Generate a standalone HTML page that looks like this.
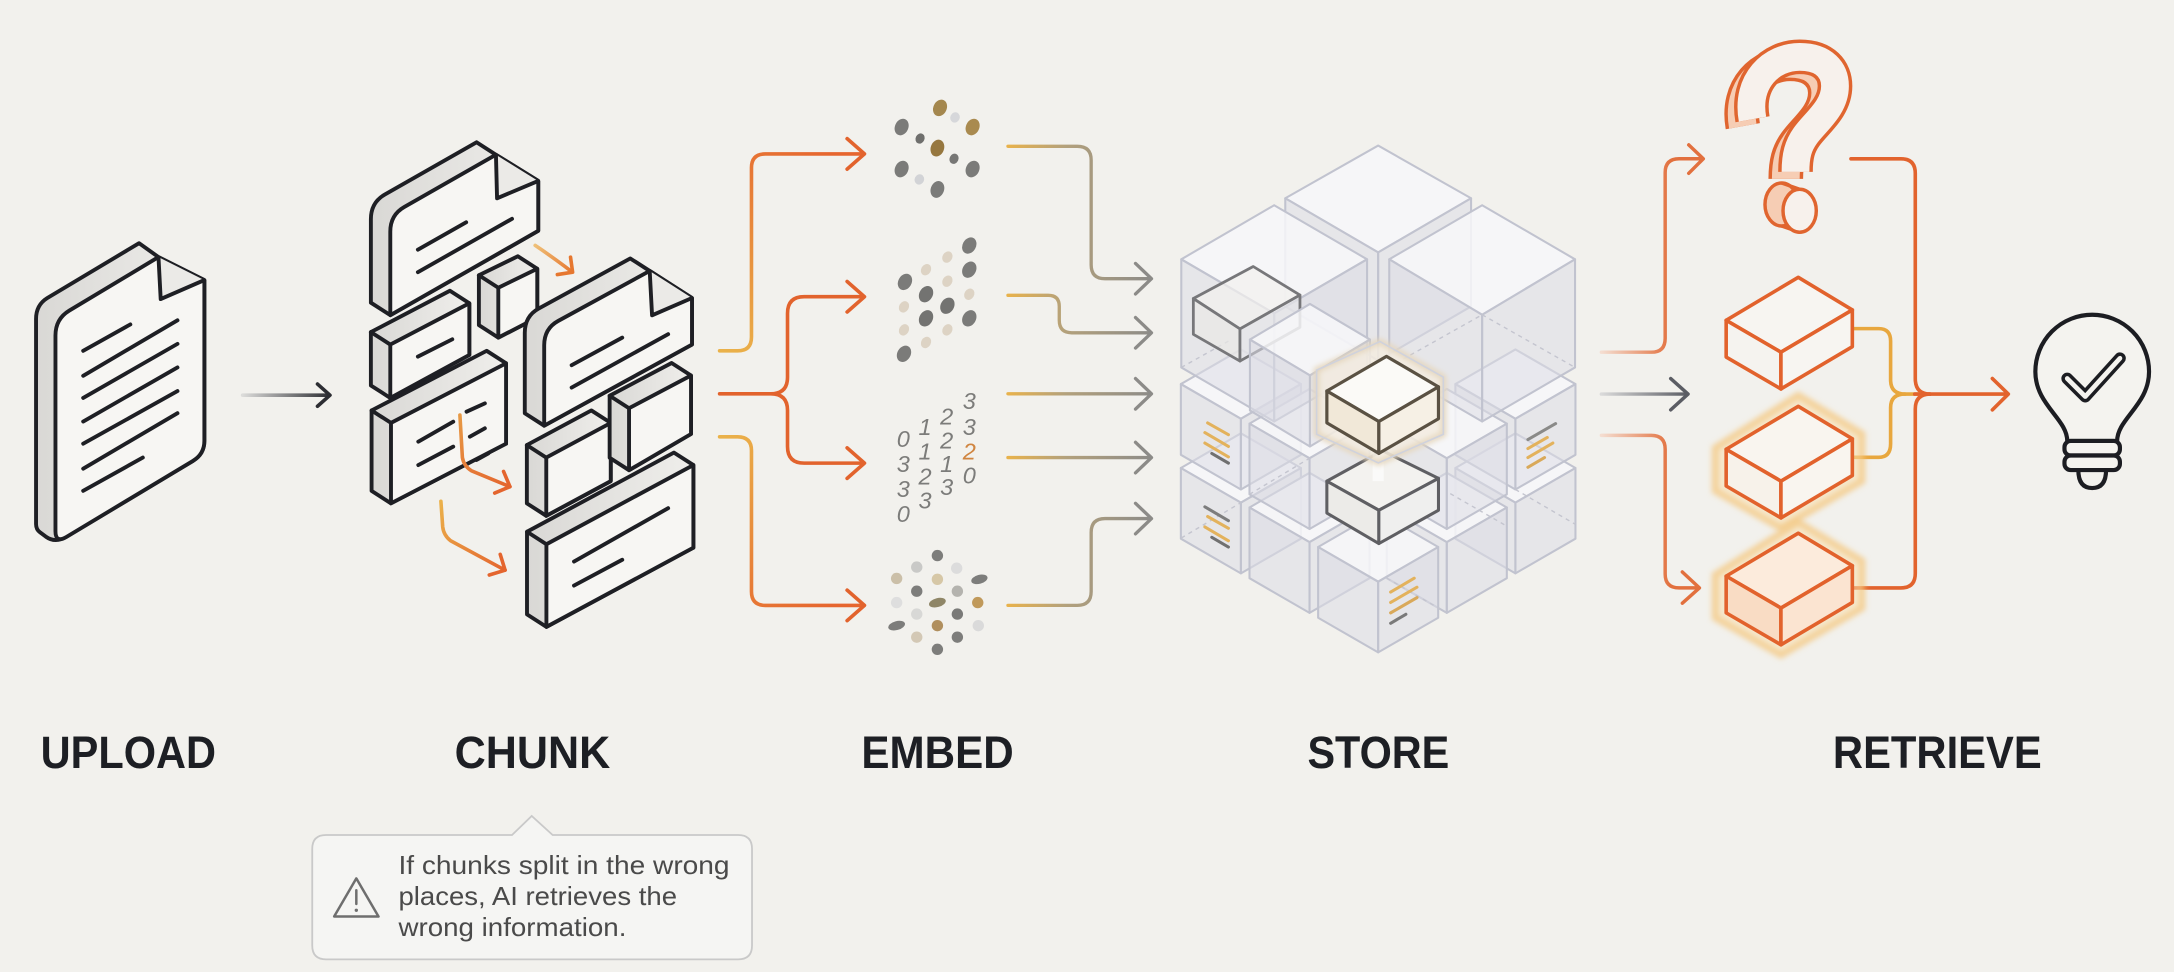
<!DOCTYPE html>
<html><head><meta charset="utf-8"><style>
html,body{margin:0;padding:0;background:#f2f1ed;}
body{width:2174px;height:972px;overflow:hidden;}
svg{display:block;}
.lbl{font-family:"Liberation Sans",Arial,sans-serif;font-weight:bold;font-size:33px;fill:#1d1f24;}
.cap{font-family:"Liberation Sans",Arial,sans-serif;font-size:19px;fill:#4a4a4a;}
.num{font-family:"Liberation Sans",Arial,sans-serif;font-style:italic;font-size:17px;fill:#7c7c7a;text-anchor:middle;}
.dk{fill:none;stroke:#1e1f24;stroke-width:2.8;stroke-linecap:round;stroke-linejoin:round;}
.hull{fill:#e3e2df;stroke:#1e1f24;stroke-width:2.8;stroke-linejoin:round;}
.face{fill:#f7f6f3;stroke:#1e1f24;stroke-width:2.8;stroke-linejoin:round;}
.cs{stroke:#c1c3cf;stroke-width:1.5;stroke-linejoin:round;}
.cside{fill:#dcdde6;fill-opacity:.55;}
.ctop{fill:#f7f7f9;fill-opacity:.85;}
.dash{fill:none;stroke:#c4c5cf;stroke-width:1;stroke-dasharray:3 3;}
.or{fill:none;stroke:#e2632d;stroke-width:2.6;stroke-linecap:round;stroke-linejoin:round;}
.gd{fill:none;stroke:#e8a73e;stroke-width:2.6;stroke-linecap:round;stroke-linejoin:round;}
.rb{stroke:#e2622c;stroke-width:2.6;stroke-linejoin:round;}
</style></head><body>
<svg width="2174" height="972" viewBox="0 0 1568 701" preserveAspectRatio="none" xmlns="http://www.w3.org/2000/svg">
<defs>
<linearGradient id="gUp" gradientUnits="userSpaceOnUse" x1="175" y1="0" x2="238" y2="0"><stop offset="0" stop-color="#dcdcda"/><stop offset="1" stop-color="#2d2e33"/></linearGradient>
<linearGradient id="gO1" gradientUnits="userSpaceOnUse" x1="519" y1="253" x2="600" y2="111"><stop offset="0" stop-color="#eab24a"/><stop offset="1" stop-color="#e6662f"/></linearGradient>
<linearGradient id="gO3" gradientUnits="userSpaceOnUse" x1="519" y1="315" x2="600" y2="437"><stop offset="0" stop-color="#eab24a"/><stop offset="1" stop-color="#e6662f"/></linearGradient>
<linearGradient id="gGr" gradientUnits="userSpaceOnUse" x1="727" y1="0" x2="831" y2="0"><stop offset="0" stop-color="#e8b24c"/><stop offset=".4" stop-color="#b3a17c"/><stop offset="1" stop-color="#8c8b88"/></linearGradient>
<linearGradient id="gSo" gradientUnits="userSpaceOnUse" x1="1155" y1="0" x2="1205" y2="0"><stop offset="0" stop-color="#f4ddd0"/><stop offset="1" stop-color="#e2703e"/></linearGradient>
<linearGradient id="gSg" gradientUnits="userSpaceOnUse" x1="1155" y1="0" x2="1217" y2="0"><stop offset="0" stop-color="#dadada"/><stop offset="1" stop-color="#5b5d64"/></linearGradient>
<linearGradient id="gCa" gradientUnits="userSpaceOnUse" x1="385" y1="176" x2="413" y2="196"><stop offset="0" stop-color="#efc27a"/><stop offset="1" stop-color="#e6772f"/></linearGradient>
<linearGradient id="gCb" gradientUnits="userSpaceOnUse" x1="331" y1="299" x2="368" y2="351"><stop offset="0" stop-color="#e79a45"/><stop offset="1" stop-color="#e4652e"/></linearGradient>
<linearGradient id="gCc" gradientUnits="userSpaceOnUse" x1="318" y1="361" x2="364" y2="411"><stop offset="0" stop-color="#ebb24b"/><stop offset="1" stop-color="#e4652e"/></linearGradient>
<linearGradient id="gSide" x1="0" y1="0" x2="1" y2="0"><stop offset="0" stop-color="#d9d8d5"/><stop offset="1" stop-color="#efeeeb"/></linearGradient>
<linearGradient id="gQ" x1="0" y1="0" x2="1" y2="0"><stop offset="0" stop-color="#f6c9ae"/><stop offset="1" stop-color="#fae3d5"/></linearGradient>
<filter id="blur" x="-20%" y="-20%" width="140%" height="140%"><feGaussianBlur stdDeviation="2"/></filter>
</defs>

<rect x="0" y="0" width="1568" height="701" fill="#f2f1ed"/>

<!-- ================= UPLOAD DOC ================= -->
<path d="M26,230 Q26,220 34,215 L100.3,175.4 L114.3,185.4 L147.4,202 L147.4,318 Q147.4,327.6 139,332.5 L48,387 Q40,392 33,387 L29,384 Q26,382 26,378 Z" fill="url(#gSide)" stroke="#1e1f24" stroke-width="2.8" stroke-linejoin="round"/>
<path class="face" d="M40,242 Q40,230 50,224 L114.3,185.4 L147.4,202 L147.4,318 Q147.4,327.6 139,332.5 L48,387.2 Q40,392 40,383 Z"/>
<path d="M114.3,185.4 L115.9,215.7 L147.4,202" fill="#ebeae7" stroke="#1e1f24" stroke-width="2.8" stroke-linejoin="round"/>
<g class="dk">
<path d="M60,253 L94,234"/><path d="M60,271 L128,231"/><path d="M60,287 L128,248"/><path d="M60,304 L128,265"/><path d="M60,320 L128,282"/><path d="M60,338 L128,298"/><path d="M60,354 L103,330"/>
</g>
<path d="M175,285 H237" stroke="url(#gUp)" stroke-width="2.6" fill="none" stroke-linecap="round"/>
<path d="M229,277 L238,285 L229,293" stroke="#2d2e33" stroke-width="2.6" fill="none" stroke-linecap="round" stroke-linejoin="round"/>

<!-- ================= CHUNK ================= -->
<path class="hull" style="fill:url(#gSide)" d="M267.5,158 Q267.5,146 277.5,140.3 L343.7,102.6 L357.7,111.6 L388.2,130.5 L388.2,166.5 L281.5,227.3 L267.5,218.3 Z"/>
<path class="face" d="M281.5,167 Q281.5,155 291.5,149.3 L357.7,111.6 L388.2,130.5 L388.2,166.5 L281.5,227.3 Z"/>
<path d="M357.7,111.6 L358.5,143 L388.2,130.5" fill="#ebeae7" stroke="#1e1f24" stroke-width="2.8" stroke-linejoin="round"/>
<path class="dk" d="M301.4,180.1 L336.2,160.3 M301.4,196.3 L369.3,157.8"/>
<path class="hull" style="fill:url(#gSide)" d="M267.5,239.5 L324.5,209.7 L338.5,218.7 L338.5,256 L281.5,287 L267.5,278 Z"/>
<path class="face" d="M281.5,248.5 L338.5,218.7 L338.5,256 L281.5,287 Z"/>
<path class="dk" d="M267.5,239.5 L281.5,248.5 M301.4,257.2 L326.2,244.7"/>
<path class="hull" style="fill:url(#gSide)" d="M345.4,198.5 L373.5,184.8 L387.5,193.8 L387.5,229 L359.4,243.5 L345.4,234.5 Z"/>
<path class="face" d="M359.4,207.5 L387.5,193.8 L387.5,229 L359.4,243.5 Z"/>
<path class="dk" d="M345.4,198.5 L359.4,207.5"/>
<path class="hull" style="fill:url(#gSide)" d="M378.5,240 Q378.5,228 388.5,222.5 L454.6,186.4 L468.6,195.4 L499.1,214.9 L499.1,248.5 L392.5,307 L378.5,298 Z"/>
<path class="face" d="M392.5,249 Q392.5,237 402.5,231.5 L468.6,195.4 L499.1,214.9 L499.1,248.5 L392.5,307 Z"/>
<path d="M468.6,195.4 L470.3,227.4 L499.1,214.9" fill="#ebeae7" stroke="#1e1f24" stroke-width="2.8" stroke-linejoin="round"/>
<path class="dk" d="M412.3,263.4 L448.8,243.5 M412.3,279.5 L481.9,241"/>
<path class="hull" style="fill:url(#gSide)" d="M268,296 L351,253 L365,262 L365,320 L282,363 L268,354 Z"/>
<path class="face" d="M282,305 L365,262 L365,320 L282,363 Z"/>
<path class="dk" d="M268,296 L282,305 M301.7,318.5 L326.9,304.1 M336.5,296.9 L349.7,290.9 M338.9,314.9 L349.7,308.9 M301.7,335.4 L326.9,322.1 M343.7,331.7 L352.2,327"/>
<path class="hull" style="fill:url(#gSide)" d="M380,321 L426.5,296 L440.5,305 L440.5,347 L394,372 L380,363 Z"/>
<path class="face" d="M394,330 L440.5,305 L440.5,347 L394,372 Z"/>
<path class="dk" d="M380,321 L394,330"/>
<path class="hull" style="fill:url(#gSide)" d="M439.7,285.4 L484.4,261.8 L498.4,270.8 L498.4,313 L453.7,339.1 L439.7,330.1 Z"/>
<path class="face" d="M453.7,294.4 L498.4,270.8 L498.4,313 L453.7,339.1 Z"/>
<path class="dk" d="M439.7,285.4 L453.7,294.4"/>
<path class="hull" style="fill:url(#gSide)" d="M380.1,383.5 L486.1,326.4 L500.1,335.4 L500.1,395 L394.1,452.1 L380.1,443.1 Z"/>
<path class="face" d="M394.1,392.5 L500.1,335.4 L500.1,395 L394.1,452.1 Z"/>
<path class="dk" d="M380.1,383.5 L394.1,392.5 M414,405 L481.9,366.5 M414,422.3 L448.8,403.7"/>
<path d="M386,177 Q398,185 412.5,196" stroke="url(#gCa)" stroke-width="2.6" fill="none" stroke-linecap="round"/>
<path d="M402,198 L413,196.3 L411.5,185.5" stroke="#e6772f" stroke-width="2.6" fill="none" stroke-linecap="round" stroke-linejoin="round"/>
<path d="M331.7,299.3 L333.5,330 Q334.5,336 340,339.5 L367.8,351" stroke="url(#gCb)" stroke-width="2.6" fill="none" stroke-linecap="round"/>
<path d="M363.2,340 L367.8,351 L356.8,355.6" stroke="#e4652e" stroke-width="2.6" fill="none" stroke-linecap="round" stroke-linejoin="round"/>
<path d="M318,361.5 L319.3,380 Q320,386 325,390 L364.3,411.2" stroke="url(#gCc)" stroke-width="2.6" fill="none" stroke-linecap="round"/>
<path d="M360.8,399.8 L364.3,411.2 L352.9,414.7" stroke="#e4652e" stroke-width="2.6" fill="none" stroke-linecap="round" stroke-linejoin="round"/>

<!-- ================= CHUNK -> EMBED ================= -->
<path d="M519,253 H532 Q542,253 542,243 V121 Q542,111 552,111 H622" stroke="url(#gO1)" stroke-width="2.6" fill="none" stroke-linecap="round"/>
<path class="or" d="M611,100 L623.5,111 L611,122"/>
<path class="or" d="M519,284 H556 Q568,284 568,272 V226 Q568,214 580,214 H622 M556,284 Q568,284 568,296 V322 Q568,334 580,334 H622"/>
<path class="or" d="M611,203 L623.5,214 L611,225 M611,323 L623.5,334 L611,345"/>
<path d="M519,315 H532 Q542,315 542,325 V426.6 Q542,436.6 552,436.6 H622" stroke="url(#gO3)" stroke-width="2.6" fill="none" stroke-linecap="round"/>
<path class="or" d="M611,425.6 L623.5,436.6 L611,447.6"/>

<!-- ================= EMBED ICONS ================= -->
<g>
<ellipse cx="678" cy="77.8" rx="4.8" ry="6.2" transform="rotate(25 678 77.8)" fill="#a4874e"/>
<ellipse cx="688.8" cy="84.7" rx="3.4" ry="3.8" transform="rotate(25 688.8 84.7)" fill="#d6d7da"/>
<ellipse cx="650.3" cy="91.6" rx="4.8" ry="6.2" transform="rotate(25 650.3 91.6)" fill="#7b7b79"/>
<ellipse cx="701.5" cy="91.6" rx="4.8" ry="6.2" transform="rotate(25 701.5 91.6)" fill="#a98a4f"/>
<ellipse cx="663.6" cy="99.9" rx="3.2" ry="3.8" transform="rotate(25 663.6 99.9)" fill="#6f6f6d"/>
<ellipse cx="676.1" cy="106.8" rx="4.8" ry="6.2" transform="rotate(20 676.1 106.8)" fill="#96773f"/>
<ellipse cx="688.1" cy="114.5" rx="3.2" ry="3.8" transform="rotate(25 688.1 114.5)" fill="#777775"/>
<ellipse cx="650.3" cy="121.9" rx="4.8" ry="6.2" transform="rotate(25 650.3 121.9)" fill="#7b7b79"/>
<ellipse cx="701.5" cy="121.9" rx="4.8" ry="6.2" transform="rotate(25 701.5 121.9)" fill="#7b7b79"/>
<ellipse cx="663.1" cy="129.4" rx="3.4" ry="3.8" transform="rotate(25 663.1 129.4)" fill="#d2d3d6"/>
<ellipse cx="676.1" cy="136.6" rx="4.8" ry="6.2" transform="rotate(20 676.1 136.6)" fill="#7b7b79"/>
</g>
<g>
<ellipse cx="699.1" cy="177.1" rx="4.8" ry="6.2" transform="rotate(30 699.1 177.1)" fill="#7b7b79"/>
<ellipse cx="683.3" cy="185.4" rx="3.5" ry="4.3" transform="rotate(30 683.3 185.4)" fill="#ddd3c4"/>
<ellipse cx="699.1" cy="194.5" rx="4.8" ry="6.2" transform="rotate(30 699.1 194.5)" fill="#7b7b79"/>
<ellipse cx="667.9" cy="194.5" rx="3.5" ry="4.3" transform="rotate(30 667.9 194.5)" fill="#ddd3c4"/>
<ellipse cx="683.3" cy="202.8" rx="3.5" ry="4.3" transform="rotate(30 683.3 202.8)" fill="#ddd3c4"/>
<ellipse cx="652.7" cy="203.3" rx="4.8" ry="6.2" transform="rotate(30 652.7 203.3)" fill="#7b7b79"/>
<ellipse cx="667.9" cy="212.2" rx="4.8" ry="6.2" transform="rotate(30 667.9 212.2)" fill="#737371"/>
<ellipse cx="699.1" cy="212.2" rx="3.5" ry="4.3" transform="rotate(30 699.1 212.2)" fill="#ddd3c4"/>
<ellipse cx="683.3" cy="220.5" rx="4.8" ry="6.2" transform="rotate(30 683.3 220.5)" fill="#737371"/>
<ellipse cx="652" cy="221.3" rx="3.5" ry="4.3" transform="rotate(30 652 221.3)" fill="#ddd3c4"/>
<ellipse cx="667.9" cy="229.6" rx="4.8" ry="6.2" transform="rotate(30 667.9 229.6)" fill="#737371"/>
<ellipse cx="699.1" cy="229.6" rx="4.8" ry="6.2" transform="rotate(30 699.1 229.6)" fill="#7b7b79"/>
<ellipse cx="652" cy="237.9" rx="3.5" ry="4.3" transform="rotate(30 652 237.9)" fill="#ddd3c4"/>
<ellipse cx="683.3" cy="237.9" rx="3.5" ry="4.3" transform="rotate(30 683.3 237.9)" fill="#ddd3c4"/>
<ellipse cx="667.9" cy="247" rx="3.5" ry="4.3" transform="rotate(30 667.9 247)" fill="#ddd3c4"/>
<ellipse cx="652" cy="255.2" rx="4.8" ry="6.2" transform="rotate(30 652 255.2)" fill="#7b7b79"/>
</g>
<g>
<text class="num" x="651.5" y="322.5">0</text><text class="num" x="651.5" y="340.5">3</text><text class="num" x="651.5" y="358.4">3</text><text class="num" x="651.5" y="376.3">0</text>
<text class="num" x="667.2" y="313.7">1</text><text class="num" x="667.2" y="331.3">1</text><text class="num" x="667.2" y="349.6">2</text><text class="num" x="667.2" y="366.7">3</text>
<text class="num" x="682.8" y="306">2</text><text class="num" x="682.8" y="323.3">2</text><text class="num" x="682.8" y="340.5">1</text><text class="num" x="682.8" y="357">3</text>
<text class="num" x="699.1" y="294.9">3</text><text class="num" x="699.1" y="313.7">3</text><text class="num" x="699.1" y="331.3" style="fill:#d08540">2</text><text class="num" x="699.1" y="348.7">0</text>
</g>
<g>
<circle cx="676.1" cy="400.7" r="4.1" fill="#7d7d7b"/>
<circle cx="661.2" cy="409" r="4.1" fill="#c9c9c7"/>
<circle cx="690" cy="409.8" r="4.1" fill="#dcdcdc"/>
<circle cx="646.7" cy="417.2" r="4.1" fill="#cbbfa8"/>
<circle cx="676.1" cy="417.8" r="4.1" fill="#d6c7a6"/>
<ellipse cx="706.4" cy="417.8" rx="6" ry="3.2" transform="rotate(-15 706.4 417.8)" fill="#7d7d7b"/>
<circle cx="661.2" cy="426.4" r="4.1" fill="#7d7d7b"/>
<circle cx="690.5" cy="426.4" r="4.1" fill="#b4b3ae"/>
<circle cx="646.7" cy="434.6" r="4.1" fill="#dedede"/>
<ellipse cx="676.1" cy="434.6" rx="6.2" ry="3.2" transform="rotate(-15 676.1 434.6)" fill="#8f8667"/>
<circle cx="705.2" cy="434.6" r="4.1" fill="#c0995a"/>
<circle cx="661.2" cy="442.9" r="4.1" fill="#d8d8d6"/>
<circle cx="690.5" cy="442.9" r="4.1" fill="#7a7a78"/>
<ellipse cx="646.7" cy="451.2" rx="6.2" ry="3.2" transform="rotate(-15 646.7 451.2)" fill="#7d7d7b"/>
<circle cx="676.1" cy="451.2" r="4.1" fill="#b08f5e"/>
<circle cx="705.6" cy="451.2" r="4.1" fill="#dadada"/>
<circle cx="661.2" cy="459.5" r="4.1" fill="#d3c8b5"/>
<circle cx="690.5" cy="459.5" r="4.1" fill="#7d7d7b"/>
<circle cx="676.1" cy="468.3" r="4.1" fill="#7d7d7b"/>
</g>

<!-- ================= EMBED -> STORE ================= -->
<g fill="none" stroke="url(#gGr)" stroke-width="2.4" stroke-linecap="round" stroke-linejoin="round">
<path d="M727,105.5 H777 Q787,105.5 787,115.5 V191 Q787,201 797,201 H830"/>
<path d="M727,213 H756 Q764,213 764,221 V231 Q764,240 773,240 H830"/>
<path d="M727,284 H830"/>
<path d="M727,330 H830"/>
<path d="M727,436.6 H777 Q787,436.6 787,426.6 V384 Q787,374 797,374 H830"/>
</g>
<g fill="none" stroke="#8c8b88" stroke-width="2.4" stroke-linecap="round" stroke-linejoin="round">
<path d="M819,190 L830.5,201 L819,212"/>
<path d="M819,229 L830.5,240 L819,251"/>
<path d="M819,273 L830.5,284 L819,295"/>
<path d="M819,319 L830.5,330 L819,341"/>
<path d="M819,363 L830.5,374 L819,385"/>
</g>

<!-- ================= STORE CUBE ================= -->
<g class="cs">
<polygon class="ctop" points="1093,312.5 1136.3,337.5 1093,362.5 1049.7,337.5"/>
<polygon class="cside" points="1049.7,337.5 1093,362.5 1093,413.5 1049.7,388.5"/>
<polygon class="cside" points="1093,362.5 1136.3,337.5 1136.3,388.5 1093,413.5"/>
<polygon class="ctop" points="895,312.5 938.3,337.5 895,362.5 851.7,337.5"/>
<polygon class="cside" points="851.7,337.5 895,362.5 895,413.5 851.7,388.5"/>
<polygon class="cside" points="895,362.5 938.3,337.5 938.3,388.5 895,413.5"/>
<polygon class="ctop" points="1043.5,341 1086.8,366 1043.5,391 1000.2,366"/>
<polygon class="cside" points="1000.2,366 1043.5,391 1043.5,442 1000.2,417"/>
<polygon class="cside" points="1043.5,391 1086.8,366 1086.8,417 1043.5,442"/>
<polygon class="ctop" points="944.5,341 987.8,366 944.5,391 901.2,366"/>
<polygon class="cside" points="901.2,366 944.5,391 944.5,442 901.2,417"/>
<polygon class="cside" points="944.5,391 987.8,366 987.8,417 944.5,442"/>
<polygon class="ctop" points="994,369.5 1037.3,394.5 994,419.5 950.7,394.5"/>
<polygon class="cside" points="950.7,394.5 994,419.5 994,470.5 950.7,445.5"/>
<polygon class="cside" points="994,419.5 1037.3,394.5 1037.3,445.5 994,470.5"/>
<polygon class="ctop" points="1093,252 1136.3,277 1093,302 1049.7,277"/>
<polygon class="cside" points="1049.7,277 1093,302 1093,353 1049.7,328"/>
<polygon class="cside" points="1093,302 1136.3,277 1136.3,328 1093,353"/>
<polygon class="ctop" points="895,252 938.3,277 895,302 851.7,277"/>
<polygon class="cside" points="851.7,277 895,302 895,353 851.7,328"/>
<polygon class="cside" points="895,302 938.3,277 938.3,328 895,353"/>
<polygon class="ctop" points="1043.5,280.5 1086.8,305.5 1043.5,330.5 1000.2,305.5"/>
<polygon class="cside" points="1000.2,305.5 1043.5,330.5 1043.5,381.5 1000.2,356.5"/>
<polygon class="cside" points="1043.5,330.5 1086.8,305.5 1086.8,356.5 1043.5,381.5"/>
<polygon class="ctop" points="944.5,280.5 987.8,305.5 944.5,330.5 901.2,305.5"/>
<polygon class="cside" points="901.2,305.5 944.5,330.5 944.5,381.5 901.2,356.5"/>
<polygon class="cside" points="944.5,330.5 987.8,305.5 987.8,356.5 944.5,381.5"/>
<polygon class="ctop" points="927,143 994,105 1061,143 994,182"/>
<polygon class="cside" points="927,143 994,182 994,260 927,221"/>
<polygon class="cside" points="994,182 1061,143 1061,221 994,260"/>
<polygon class="ctop" points="852,187 919,148 986,187 919,226"/>
<polygon class="cside" points="852,187 919,226 919,304 852,265"/>
<polygon class="cside" points="919,226 986,187 986,265 919,304"/>
<polygon class="ctop" points="1002,187 1069,148 1136,187 1069,227"/>
<polygon class="cside" points="1002,187 1069,227 1069,304 1002,265"/>
<polygon class="cside" points="1069,227 1136,187 1136,265 1069,304"/>
</g>
<g class="dash">
<path d="M1069,227 L1136,265"/><path d="M1012,259 L1069,227"/><path d="M852,265 L886,246"/><path d="M901.2,356.5 L944.5,330.5"/><path d="M1046,356 L1086,379"/><path d="M1093,353 L1136,378"/><path d="M852,388 L895,362.5"/><path d="M1000.2,417 L1043.5,442"/>
</g>
<g stroke="#77777a" stroke-width="2" stroke-linejoin="round">
<polygon points="860.7,215.3 903.9,192.2 937.6,212.8 894.3,237.2" fill="#f2f1ee" fill-opacity=".7"/>
<polygon points="860.7,215.3 894.3,237.2 894.3,260.4 860.7,241.1" fill="#e9e8e6" fill-opacity=".7"/>
<polygon points="894.3,237.2 937.6,212.8 937.6,236 894.3,260.4" fill="#e6e6e8" fill-opacity=".7"/>
</g>
<g class="cs">
<polygon class="ctop" points="901.5,244.9 944.8,219.2 988.1,244.9 944.8,270.7"/>
<polygon class="cside" points="901.5,244.9 944.8,270.7 944.8,322 901.5,296"/>
<polygon class="cside" points="944.8,270.7 988.1,244.9 988.1,296 944.8,322"/>
</g>
<g fill="none" stroke-width="2.2" stroke-linecap="round">
<path d="M871,305 L886,313.5" stroke="#e3b25c"/><path d="M869,312 L886,322" stroke="#e3b25c"/><path d="M869,319.5 L886,329.5" stroke="#e3b25c"/><path d="M874,327 L886,334" stroke="#707070"/>
<path d="M869,365.5 L886,375.5" stroke="#7d7d7d"/><path d="M871,372.5 L886,381" stroke="#e3b25c"/><path d="M869,380 L886,390" stroke="#e3b25c"/><path d="M874,387.5 L886,394.5" stroke="#707070"/>
<path d="M1003,427 L1020,417" stroke="#e3b25c"/><path d="M1003,434.5 L1022,423.5" stroke="#e3b25c"/><path d="M1003,442 L1022,431" stroke="#d9a95a"/><path d="M1003,449.5 L1014,443" stroke="#7a7a7a"/>
<path d="M1102,317 L1122,305.5" stroke="#8a8a88"/><path d="M1102,323.5 L1116,315.5" stroke="#e3b25c"/><path d="M1102,330 L1120,319.5" stroke="#e3b25c"/><path d="M1102,337 L1114,330" stroke="#d9a95a"/>
</g>
<g stroke="#5f5f63" stroke-width="2.2" stroke-linejoin="round">
<polygon points="957,347 997,325 1037.5,345 994.5,368" fill="#f3f2ef"/>
<polygon points="957,347 994.5,368 994.5,392 957,370" fill="#ecebe8"/>
<polygon points="994.5,368 1037.5,345 1037.5,368 994.5,392" fill="#efefee"/>
</g>
<rect x="990" y="327" width="8" height="20" fill="#ffffff" fill-opacity=".6"/>
<polygon points="949.6,266.9 995.3,246.3 1041,272 1041,313.2 994.1,333.8 949.6,313.2" fill="#f3ece0" fill-opacity=".85" stroke="#e5d6bb" stroke-width="4" filter="url(#blur)"/>
<polygon points="949.6,266.9 995.3,246.3 1041,272 1041,313.2 994.1,333.8 949.6,313.2" fill="none" stroke="#d0d2dc" stroke-width="1.2"/>
<g stroke="#5a5143" stroke-width="2.3" stroke-linejoin="round">
<polygon points="957,282 1000,257 1037.5,279 994.5,304" fill="#fbfaf7"/>
<polygon points="957,282 994.5,304 994.5,327 957,305" fill="#f1e8d8"/>
<polygon points="994.5,304 1037.5,279 1037.5,302 994.5,327" fill="#f6f0e5"/>
</g>

<!-- ================= STORE -> RETRIEVE ================= -->
<path d="M1155,254 H1191 Q1201,254 1201,244 V124.5 Q1201,114.5 1211,114.5 H1228" fill="none" stroke="url(#gSo)" stroke-width="2.5" stroke-linecap="round"/>
<path d="M1218,104.5 L1228.5,114.5 L1218,125" fill="none" stroke="#e2703e" stroke-width="2.5" stroke-linecap="round" stroke-linejoin="round"/>
<path d="M1155,284.2 H1217" fill="none" stroke="url(#gSg)" stroke-width="2.5" stroke-linecap="round"/>
<path d="M1205,273 L1217.5,284.2 L1205,295.6" fill="none" stroke="#5b5d64" stroke-width="2.5" stroke-linecap="round" stroke-linejoin="round"/>
<path d="M1155,314 H1191 Q1201,314 1201,324 V414 Q1201,424 1211,424 H1225" fill="none" stroke="url(#gSo)" stroke-width="2.5" stroke-linecap="round"/>
<path d="M1213.4,412.5 L1225.7,424 L1213.4,435" fill="none" stroke="#e2703e" stroke-width="2.5" stroke-linecap="round" stroke-linejoin="round"/>

<!-- ================= RETRIEVE ================= -->
<!-- 3D question mark (drawn) -->
<g fill="none" stroke-linejoin="round">
<g transform="translate(-7,5)">
<path d="M1264,86 C1259,58 1278,41 1298,41 C1316,41 1323.5,51 1323.5,62 C1323.5,78 1309,88 1302,98 C1297,105 1295,112 1295,124" stroke="#e0652f" stroke-width="25"/>
<path d="M1264,86 C1259,58 1278,41 1298,41 C1316,41 1323.5,51 1323.5,62 C1323.5,78 1309,88 1302,98 C1297,105 1295,112 1295,124" stroke="#f6cdb4" stroke-width="20"/>
</g>
<path d="M1264,86 C1259,58 1278,41 1298,41 C1316,41 1323.5,51 1323.5,62 C1323.5,78 1309,88 1302,98 C1297,105 1295,112 1295,124" stroke="#e0652f" stroke-width="25"/>
<path d="M1264,86 C1259,58 1278,41 1298,41 C1316,41 1323.5,51 1323.5,62 C1323.5,78 1309,88 1302,98 C1297,105 1295,112 1295,124" stroke="#f7f1ec" stroke-width="20"/>
</g>
<!-- dot cylinder -->
<polygon points="1285,132 1298,136.5 1298,167.5 1285,163" fill="#f6cdb4"/>
<ellipse cx="1285" cy="147.5" rx="12" ry="15.5" fill="#f6cdb4" stroke="#e0652f" stroke-width="2.5"/>
<path d="M1285,132 L1298,136.5 M1285,163 L1298,167.5" stroke="#e0652f" stroke-width="2.5" fill="none"/>
<ellipse cx="1298" cy="152" rx="12" ry="15.5" fill="#f7f1ec" stroke="#e0652f" stroke-width="2.5"/>
<!-- merge paths -->
<path class="or" d="M1335,114.5 H1371 Q1381.4,114.5 1381.4,125 V273 Q1381.4,284.2 1392,284.2"/>
<path class="or" d="M1336,424 H1371 Q1381.4,424 1381.4,413.5 V295 Q1381.4,284.2 1392,284.2"/>
<path class="gd" d="M1336.3,237 H1355 Q1363.6,237 1363.6,246 V274 Q1363.6,284.2 1374,284.2 H1385"/>
<path class="gd" d="M1336.3,329.8 H1355 Q1363.6,329.8 1363.6,320 V294 Q1363.6,284.2 1374,284.2"/>
<path class="or" d="M1381,284.2 H1448 M1437,273 L1448.5,284.2 L1437,295.6"/>
<polygon points="1237,323 1297,285 1343,313 1343,347 1284.5,381 1237,354" fill="#f9dfb0" fill-opacity=".5" stroke="#f3bf6c" stroke-width="5" stroke-opacity=".6" filter="url(#blur)"/>
<polygon points="1237,414.5 1297,376.5 1343,404.5 1343,438.5 1284.5,472.5 1237,445.5" fill="#f9dfb0" fill-opacity=".5" stroke="#f3bf6c" stroke-width="5" stroke-opacity=".6" filter="url(#blur)"/>
<g class="rb">
<polygon points="1245,231 1297,200 1336,223.5 1284.5,254" fill="#f7f5f1"/>
<polygon points="1245,231 1284.5,254 1284.5,280.5 1245,257.5" fill="#f5f3ef"/>
<polygon points="1284.5,254 1336,223.5 1336,250 1284.5,280.5" fill="#f7f5f1"/>
</g>
<g class="rb">
<polygon points="1245,324 1297,293 1336,316.5 1284.5,347" fill="#f9f5ef"/>
<polygon points="1245,324 1284.5,347 1284.5,373.5 1245,350.5" fill="#f7f2ea"/>
<polygon points="1284.5,347 1336,316.5 1336,343 1284.5,373.5" fill="#f9f5ef"/>
</g>
<g class="rb">
<polygon points="1245,415.5 1297,384.5 1336,408 1284.5,438.5" fill="#fcebdc"/>
<polygon points="1245,415.5 1284.5,438.5 1284.5,465 1245,442" fill="#f9dcc4"/>
<polygon points="1284.5,438.5 1336,408 1336,434.5 1284.5,465" fill="#fbe4d1"/>
</g>
<g fill="none" stroke="#1c1d22" stroke-width="3" stroke-linejoin="round" stroke-linecap="round">
<path d="M1491,318 C1491,302 1468,292 1468,268 A41,41 0 0 1 1550,268 C1550,292 1527,302 1527,318 Z" fill="#f4f3ef"/>
<rect x="1489" y="318" width="40" height="10.5" rx="4.5" fill="#f4f3ef"/>
<rect x="1489" y="328.5" width="40" height="10.5" rx="4.5" fill="#f4f3ef"/>
<path d="M1499,339 Q1499,352 1509,352 Q1519,352 1519,339"/>
</g>
<path d="M1491,273 L1504,286 L1529,258.4" fill="none" stroke="#1c1d22" stroke-width="8.5" stroke-linecap="round" stroke-linejoin="round"/>
<path d="M1491,273 L1504,286 L1529,258.4" fill="none" stroke="#f4f3ef" stroke-width="3.4" stroke-linecap="round" stroke-linejoin="round"/>

<!-- ================= LABELS ================= -->
<text class="lbl" x="29.3" y="554" textLength="126.5" lengthAdjust="spacingAndGlyphs">UPLOAD</text>
<text class="lbl" x="327.9" y="554" textLength="112.3" lengthAdjust="spacingAndGlyphs">CHUNK</text>
<text class="lbl" x="621.3" y="554" textLength="109.8" lengthAdjust="spacingAndGlyphs">EMBED</text>
<text class="lbl" x="943" y="554" textLength="102.3" lengthAdjust="spacingAndGlyphs">STORE</text>
<text class="lbl" x="1322" y="554" textLength="150.6" lengthAdjust="spacingAndGlyphs">RETRIEVE</text>

<!-- ================= CALLOUT ================= -->
<path d="M235.2,602.2 H369.3 L383.5,588.5 L398.6,602.2 H532.4 Q542.4,602.2 542.4,612.2 V681.9 Q542.4,691.9 532.4,691.9 H235.2 Q225.2,691.9 225.2,681.9 V612.2 Q225.2,602.2 235.2,602.2 Z" fill="#f5f5f3" stroke="#c9c9c9" stroke-width="1.3"/>
<path d="M257,633.5 L273,661 L241,661 Z" fill="none" stroke="#6e6e6e" stroke-width="1.8" stroke-linejoin="round"/>
<path d="M257,642 L257,652" stroke="#6e6e6e" stroke-width="1.8" stroke-linecap="round"/>
<circle cx="257" cy="656.5" r="1.2" fill="#6e6e6e"/>
<text class="cap" x="287.4" y="630.4" textLength="238.8" lengthAdjust="spacingAndGlyphs">If chunks split in the wrong</text>
<text class="cap" x="287.4" y="652.7" textLength="200.9" lengthAdjust="spacingAndGlyphs">places, AI retrieves the</text>
<text class="cap" x="287.4" y="675.1" textLength="164.4" lengthAdjust="spacingAndGlyphs">wrong information.</text>
</svg>
</body></html>
